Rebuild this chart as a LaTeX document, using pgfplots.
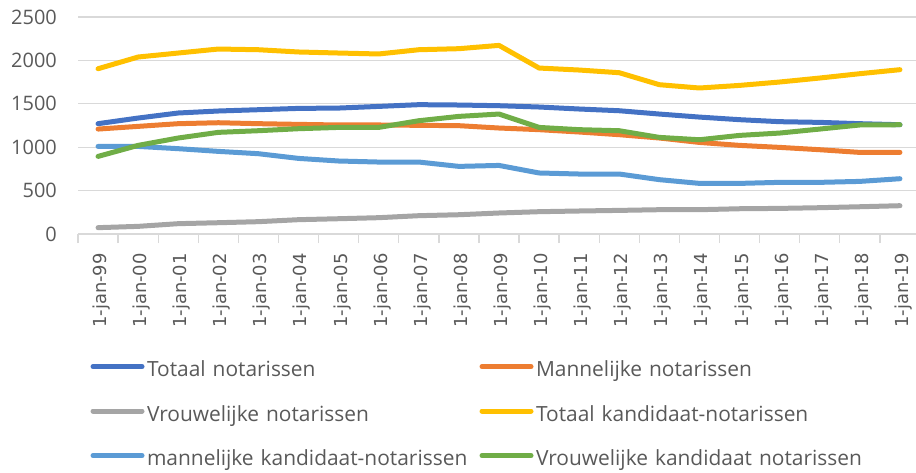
\documentclass[border=0pt]{standalone}
\usepackage{pgfplots}
\pgfplotsset{compat=1.18}
\usepackage{fontspec}
\setmainfont{Open Sans}
\newfontfamily\dejavu{DejaVu Sans}
\definecolor{sA}{HTML}{4472C4}
\definecolor{sB}{HTML}{ED7D31}
\definecolor{sC}{HTML}{A5A5A5}
\definecolor{sD}{HTML}{FFC000}
\definecolor{sE}{HTML}{5B9BD5}
\definecolor{sF}{HTML}{70AD47}
\definecolor{gridc}{HTML}{D9D9D9}
\definecolor{txt}{HTML}{595959}
\begin{document}
\begin{tikzpicture}
\path[use as bounding box] (-78bp,-239bp) rectangle (838bp,234bp);
\begin{axis}[
  at={(0,0)}, anchor=south west,
  scale only axis, width=842bp, height=217bp,
  xmin=-0.5, xmax=20.5, ymin=0, ymax=2500,
  axis x line*=bottom, axis y line*=left,
  x axis line style={draw=gridc, line width=1.3bp, -},
  y axis line style={draw=none},
  ytick={0,500,...,2500},
  xtick={0,...,20},
  xticklabels={1-jan-99,1-jan-00,1-jan-01,1-jan-02,1-jan-03,1-jan-04,1-jan-05,1-jan-06,1-jan-07,1-jan-08,1-jan-09,1-jan-10,1-jan-11,1-jan-12,1-jan-13,1-jan-14,1-jan-15,1-jan-16,1-jan-17,1-jan-18,1-jan-19},
  minor xtick={-0.5,0.5,...,20.5},
  major tick length=0pt, minor tick length=9bp, tick align=outside,
  minor tick style={draw=gridc, line width=1.3bp},
  ytick style={draw=none},
  ymajorgrids, grid style={draw=gridc, line width=1.3bp},
  xticklabel style={xshift=3.5bp, rotate=90, anchor=east, inner sep=0pt, text=txt, font=\dejavu\fontsize{18}{20}\selectfont},
  xticklabel shift=19bp,
  yticklabel style={anchor=east, inner sep=0pt, text=txt, font=\fontsize{20}{24}\selectfont, xshift=-21bp},
  /pgf/number format/assume math mode=true,
  /pgf/number format/1000 sep={},
  legend columns=2,
  legend style={draw=none, fill=none, inner sep=0pt, outer sep=0pt, column sep=0pt, row sep=26.5bp,
    at={(0.0119,-0.5925)}, anchor=north west,
    nodes={inner xsep=0pt, inner ysep=0pt, text width=330bp, align=left, text height=14bp, text depth=4bp, text=txt, font=\fontsize{21}{24}\selectfont}},
  legend cell align=left,
  legend image code/.code={\path (0bp,0bp) (54bp,0bp); \draw[#1, line width=5bp, line cap=round] (2.5bp,5bp) -- (51.5bp,5bp);},
  every axis plot/.append style={line width=5bp, line join=round, line cap=round},
]
\addplot[sA] coordinates {(0,1271) (1,1336) (2,1394) (3,1417) (4,1432) (5,1447) (6,1451) (7,1470) (8,1490) (9,1486) (10,1478) (11,1463) (12,1440) (13,1420) (14,1382) (15,1347) (16,1317) (17,1294) (18,1286) (19,1271) (20,1259)};
\addlegendentry{Totaal notarissen}
\addplot[sB] coordinates {(0,1209) (1,1240) (2,1271) (3,1282) (4,1271) (5,1263) (6,1256) (7,1256) (8,1252) (9,1248) (10,1221) (11,1202) (12,1175) (13,1144) (14,1106) (15,1055) (16,1021) (17,998) (18,971) (19,940) (20,940)};
\addlegendentry{Mannelijke notarissen}
\addplot[sC] coordinates {(0,73) (1,88) (2,119) (3,130) (4,142) (5,165) (6,176) (7,188) (8,211) (9,222) (10,242) (11,257) (12,265) (13,272) (14,280) (15,280) (16,291) (17,295) (18,303) (19,314) (20,326)};
\addlegendentry{Vrouwelijke notarissen}
\addplot[sD] coordinates {(0,1904) (1,2039) (2,2085) (3,2131) (4,2123) (5,2097) (6,2085) (7,2074) (8,2123) (9,2135) (10,2173) (11,1912) (12,1889) (13,1858) (14,1720) (15,1682) (16,1712) (17,1751) (18,1797) (19,1847) (20,1893)};
\addlegendentry{Totaal kandidaat-notarissen}
\addplot[sE] coordinates {(0,1009) (1,1009) (2,983) (3,952) (4,925) (5,871) (6,841) (7,829) (8,829) (9,779) (10,790) (11,703) (12,691) (13,691) (14,626) (15,583) (16,583) (17,595) (18,595) (19,606) (20,637)};
\addlegendentry{mannelijke kandidaat-notarissen}
\addplot[sF] coordinates {(0,894) (1,1021) (2,1106) (3,1171) (4,1190) (5,1213) (6,1228) (7,1228) (8,1305) (9,1355) (10,1382) (11,1228) (12,1202) (13,1190) (14,1113) (15,1086) (16,1136) (17,1163) (18,1209) (19,1256) (20,1259)};
\addlegendentry{Vrouwelijke kandidaat notarissen}
\end{axis}
\end{tikzpicture}
\end{document}
